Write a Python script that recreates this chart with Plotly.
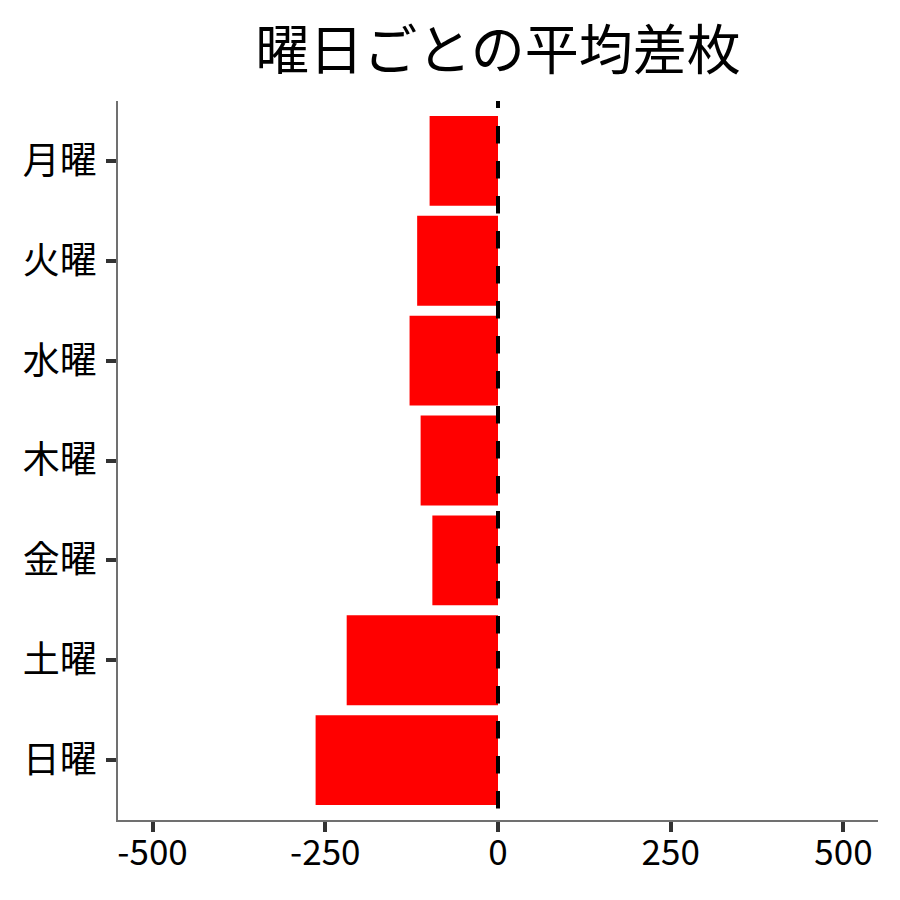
import plotly.graph_objects as go

# 曜日ごとの平均差枚
days = ["月曜", "火曜", "水曜", "木曜", "金曜", "土曜", "日曜"]
avg_diff = [-99, -117, -128, -112, -95, -219, -264]
x_ticks = [-500, -250, 0, 250, 500]

FONT = "Noto Sans CJK JP"

fig = go.Figure(go.Bar(
    x=avg_diff,
    y=days,
    orientation="h",
    marker=dict(color="#ff0000", line=dict(width=0)),
    showlegend=False,
))

# 0 の位置に破線（上端は短い破線から始まる）
dash_pattern = "7px,18px," + ",".join(["17.5px,17.5px"] * 22)
fig.add_shape(
    type="line", xref="x", yref="paper",
    x0=0, x1=0, y0=1, y1=0,
    line=dict(color="black", width=4, dash=dash_pattern),
    layer="above",
)

fig.update_layout(
    width=900, height=900,
    paper_bgcolor="white", plot_bgcolor="white",
    margin=dict(l=110, r=30, t=93, b=88),
    font=dict(family=FONT, size=35, color="black"),
    title=dict(
        text="曜日ごとの平均差枚",
        font=dict(family=FONT, size=54, color="black"),
        x=0.5, xref="paper", xanchor="center",
        y=1 - 43 / 900, yref="container", yanchor="middle",
    ),
    bargap=0.1,
    xaxis=dict(
        range=[-550, 550],
        tickvals=x_ticks,
        ticktext=[str(v) for v in x_ticks],
        tickfont=dict(size=35),
        ticklabelstandoff=-9,
        showgrid=False, zeroline=False,
        showline=True, linecolor="#707070", linewidth=1.5,
        ticks="outside", ticklen=10, tickwidth=3.5, tickcolor="#333333",
    ),
    yaxis=dict(
        categoryorder="array",
        categoryarray=days[::-1],
        range=[-0.6, 6.6],
        tickfont=dict(size=37),
        ticklabelstandoff=2,
        showgrid=False, zeroline=False,
        showline=True, linecolor="#707070", linewidth=1.5,
        ticks="outside", ticklen=10, tickwidth=3.5, tickcolor="#333333",
    ),
)

fig.write_html("out.html")
